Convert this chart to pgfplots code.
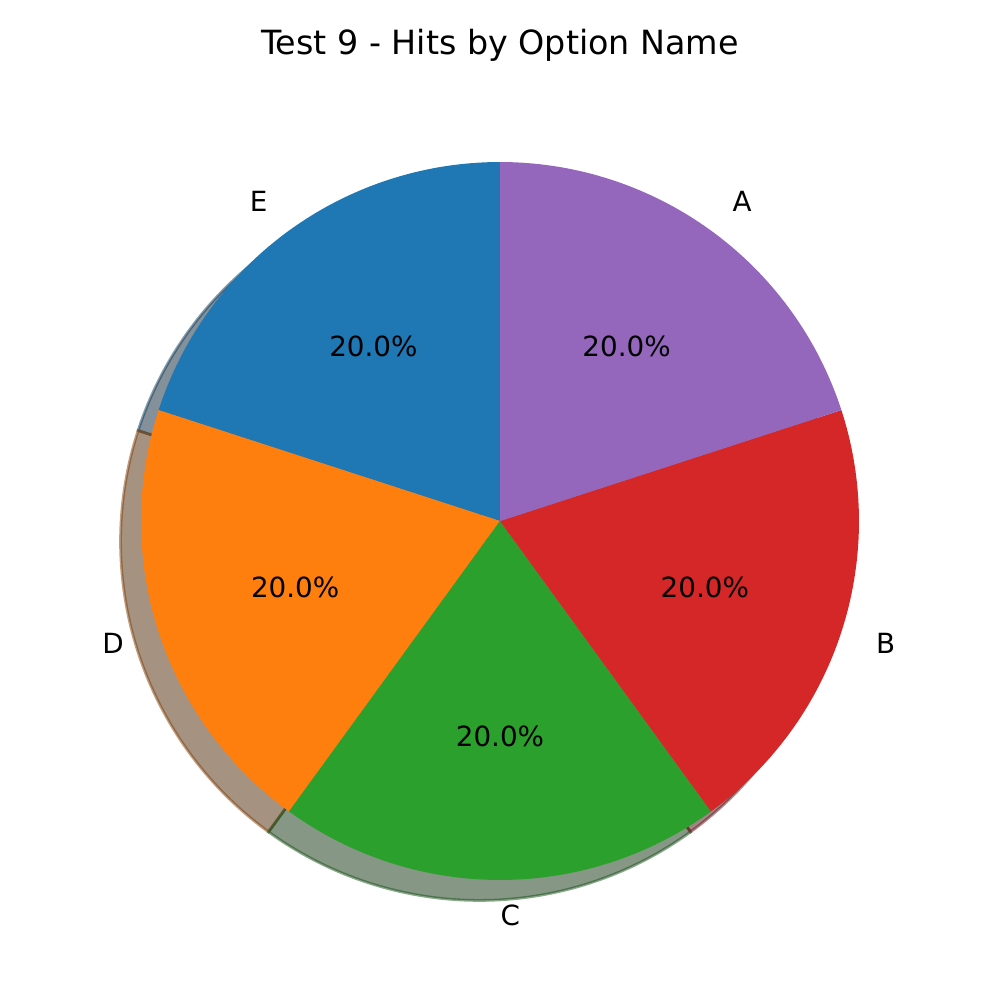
\documentclass[border=0pt]{standalone}
\usepackage{pgfplots}
\pgfplotsset{compat=1.18}
\usepackage{fontspec}
\setmainfont{DejaVu Sans}
\definecolor{cE}{HTML}{1F77B4}
\definecolor{cD}{HTML}{FF7F0E}
\definecolor{cC}{HTML}{2CA02C}
\definecolor{cB}{HTML}{D62728}
\definecolor{cA}{HTML}{9467BD}
% values: E=20, D=20, C=20, B=20, A=20 (counter-clockwise from 90 deg)
\def\sh{-0.057}
\begin{document}
\begin{tikzpicture}
\path[use as bounding box] (0,0) rectangle (360pt,360pt);
\begin{axis}[at={(0,0)}, anchor=south west, scale only axis,
  width=360pt, height=360pt,
  xmin=-1.3928, xmax=1.3928, ymin=-1.3343, ymax=1.4513,
  hide axis, clip=false, samples=80, variable=\t]
% shadows
\foreach \c/\a/\b in {E/90/162, D/162/234, C/234/306, B/306/378, A/378/450}{
\edef\tmp{\noexpand\addplot[fill=c\c!30!black, draw=c\c!50!black, line width=1pt, fill opacity=0.5, draw opacity=0.5, domain=\a:\b]
  ({cos(t)+\sh},{sin(t)+\sh}) -- (axis cs:\sh,\sh) -- cycle;}
\tmp
}
% wedges
\foreach \c/\a/\b in {E/90/162, D/162/234, C/234/306, B/306/378, A/378/450}{
\edef\tmp{\noexpand\addplot[fill=c\c, draw=none, domain=\a:\b]
  ({cos(t)},{sin(t)}) -- (axis cs:0,0) -- cycle;}
\tmp
}
\node[anchor=base, font=\fontsize{12}{14}\selectfont, inner sep=0] at (axis cs:0,1.2981) {Test 9 - Hits by Option Name};
\begin{scope}[every node/.style={font=\fontsize{10}{12}\selectfont, inner sep=0}]
\node[anchor=west] at (axis cs:0.6466,0.8899) {A};
\node[anchor=west] at (axis cs:1.0462,-0.3399) {B};
\node[anchor=west] at (axis cs:0,-1.1) {C};
\node[anchor=east] at (axis cs:-1.0462,-0.3399) {D};
\node[anchor=east] at (axis cs:-0.6466,0.8899) {E};
\node at (axis cs:0.3527,0.4854) {20.0\%};
\node at (axis cs:0.5706,-0.1854) {20.0\%};
\node at (axis cs:0,-0.6) {20.0\%};
\node at (axis cs:-0.5706,-0.1854) {20.0\%};
\node at (axis cs:-0.3527,0.4854) {20.0\%};
\end{scope}
\end{axis}
\end{tikzpicture}
\end{document}
